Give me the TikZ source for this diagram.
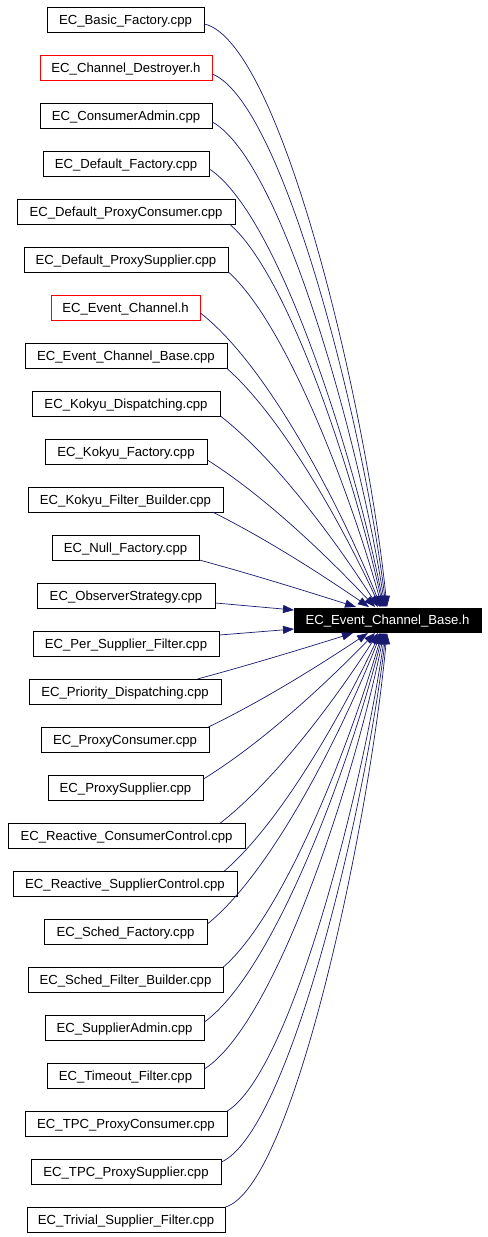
\documentclass[tikz,border=0pt]{standalone}
\usepackage{fontspec}
\setmainfont{Liberation Sans}
\usetikzlibrary{arrows.meta,calc}
\definecolor{edgeblue}{HTML}{191970}
\begin{document}
\begin{tikzpicture}[x=1bp,y=-1bp,
  box/.style={draw, line width=0.8bp, minimum height=25bp, inner sep=0pt,
    text height=9.6bp, text depth=0pt,
    font=\fontsize{13.2}{15}\selectfont, fill=white},
  tgtbox/.style={draw=black, fill=black, text=white, line width=0.8bp,
    minimum height=24bp, minimum width=187bp, inner sep=0pt,
    text height=9.6bp, text depth=0pt,
    font=\fontsize{13.2}{15}\selectfont},
  edge/.style={draw=edgeblue, line width=0.7bp,
    -{Triangle[length=11bp,width=8bp]}, fill=none}]
\useasboundingbox (0,0) rectangle (488,1237);
\fill[white] (0,0) rectangle (488,1237);

\node[tgtbox] (tgt) at (387.5,620) {EC\_Event\_Channel\_Base.h};

\foreach \i/\lab/\xl/\xr/\col in {
  0/EC\_Basic\_Factory.cpp/47/204/black,
  1/EC\_Channel\_Destroyer.h/40/212/red,
  2/EC\_ConsumerAdmin.cpp/40/212/black,
  3/EC\_Default\_Factory.cpp/43/209/black,
  4/EC\_Default\_ProxyConsumer.cpp/17/235/black,
  5/EC\_Default\_ProxySupplier.cpp/24/228/black,
  6/EC\_Event\_Channel.h/51/200/red,
  7/EC\_Event\_Channel\_Base.cpp/25/227/black,
  8/EC\_Kokyu\_Dispatching.cpp/32/220/black,
  9/EC\_Kokyu\_Factory.cpp/45/207/black,
  10/EC\_Kokyu\_Filter\_Builder.cpp/28/223/black,
  11/EC\_Null\_Factory.cpp/52/199/black,
  12/EC\_ObserverStrategy.cpp/37/215/black,
  13/EC\_Per\_Supplier\_Filter.cpp/33/219/black,
  14/EC\_Priority\_Dispatching.cpp/29/221/black,
  15/EC\_ProxyConsumer.cpp/41/209/black,
  16/EC\_ProxySupplier.cpp/48/203/black,
  17/EC\_Reactive\_ConsumerControl.cpp/8/245/black,
  18/EC\_Reactive\_SupplierControl.cpp/13/237/black,
  19/EC\_Sched\_Factory.cpp/44/207/black,
  20/EC\_Sched\_Filter\_Builder.cpp/28/223/black,
  21/EC\_SupplierAdmin.cpp/45/204/black,
  22/EC\_Timeout\_Filter.cpp/47/204/black,
  23/EC\_TPC\_ProxyConsumer.cpp/25/227/black,
  24/EC\_TPC\_ProxySupplier.cpp/31/221/black,
  25/EC\_Trivial\_Supplier\_Filter.cpp/27/225/black}{
  \pgfmathsetmacro\boxw{\xr-\xl}
  \pgfmathsetmacro\boxcx{(\xl+\xr)/2}
  \pgfmathsetmacro\boxcy{19.5+48*\i}
  \node[box, draw=\col, minimum width=\boxw bp] (n\i) at (\boxcx,\boxcy) {\lab};
}

\foreach \i/\ox/\oy/\tx/\ty in {
  0/0/4.5/387/607, 1/0/6.5/386/607, 2/0/6.5/385/607, 3/0/5.5/384/607,
  4/-6/12.5/383/607, 5/0/12.5/382/607, 6/0/5.5/381/607, 7/-1/12.5/380/607,
  8/0/12.5/378/607, 9/0/8.5/375/607, 10/-11/12.5/369/607, 11/0/12.5/356/607,
  12/0/7.5/294/610, 13/0/-8.5/294/629,
  14/-24/-12.5/353/633, 15/-1/-12.5/368/633, 16/0/-8.5/375/633,
  17/-25/-12.5/378/633, 18/-13/-12.5/380/633, 19/0/-7.5/381/633,
  20/0/-12.5/382/633, 21/0/-5.5/383/633, 22/0/-6.5/384/633,
  23/0/-12.5/385/633, 24/0/-9.5/386/633, 25/0/-12.5/387/633}{
  \coordinate (s\i) at ($(n\i.east)+(\ox,\oy)$);
  \coordinate (t\i) at (\tx,\ty);
  \draw[edge] let \p1=(s\i), \p2=(t\i),
      \n1={\x2-\x1}, \n2={\y2-\y1}, \n3={abs(\y2-\y1)/585.3pt}
    in (s\i) .. controls ({\x1+\n1*(0.33+0.09*\n3)}, {\y1+\n2*(0.33-0.30*\n3)})
       and ({\x2-\n1*(0.33-0.22*\n3)}, {\y2-\n2*(0.33+0.01*\n3)}) .. (t\i);
}
\end{tikzpicture}
\end{document}
